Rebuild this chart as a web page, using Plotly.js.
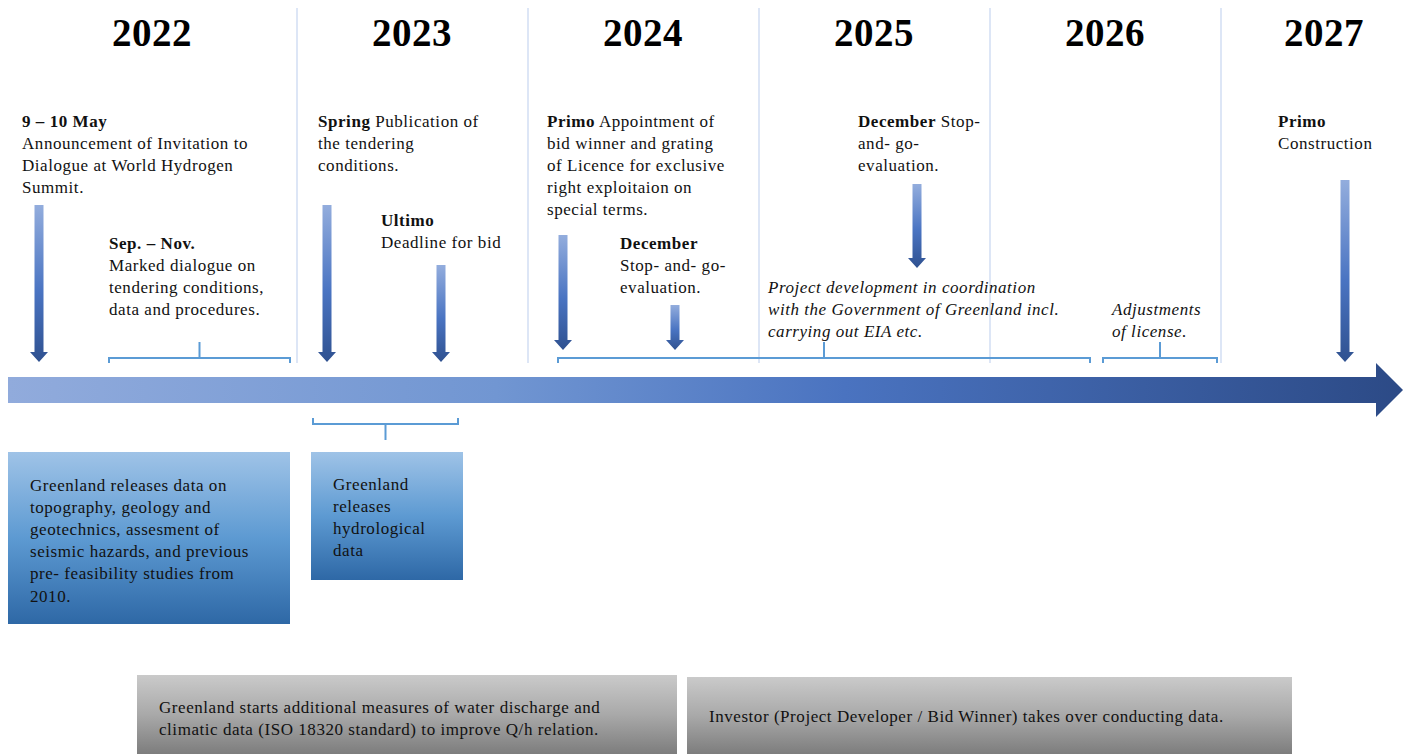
<!DOCTYPE html>
<html><head><meta charset="utf-8">
<script src="https://cdn.plot.ly/plotly-3.0.1.min.js"></script>
<style>html,body{margin:0;padding:0;background:#fff}#chart{width:1408px;height:754px}
#chart .annotation-text{letter-spacing:0.55px}</style>
</head><body><div id="chart"></div>
<script>
// ---- data ----
const years = ['2022', '2023', '2024', '2025', '2026', '2027'];
const milestoneTexts = [
  '<b>9 – 10 May</b><br>Announcement of Invitation to<br>Dialogue at World Hydrogen<br>Summit.',
  '<b>Sep. – Nov.</b><br>Marked dialogue on<br>tendering conditions,<br>data and procedures.',
  '<b>Spring</b> Publication of<br>the tendering<br>conditions.',
  '<b>Ultimo</b><br>Deadline for bid',
  '<b>Primo</b> Appointment of<br>bid winner and grating<br>of Licence for exclusive<br>right exploitaion on<br>special terms.',
  '<b>December</b><br>Stop- and- go-<br>evaluation.',
  '<b>December</b> Stop-<br>and- go-<br>evaluation.',
  '<b>Primo</b><br>Construction'
];
const periodTexts = [
  'Project development in coordination<br>with the Government of Greenland incl.<br>carrying out EIA etc.',
  'Adjustments<br>of license.'
];
const dataReleaseTexts = [
  'Greenland releases data on<br>topography, geology and<br>geotechnics, assesment of<br>seismic hazards, and previous<br>pre- feasibility studies from<br>2010.',
  'Greenland<br>releases<br>hydrological<br>data'
];
const dataStreamTexts = [
  'Greenland starts additional measures of water discharge and<br>climatic data (ISO 18320 standard) to improve Q/h relation.',
  'Investor (Project Developer / Bid Winner) takes over conducting data.'
];

// ---- layout geometry (positions, not data) ----
const yearCenters = [152, 412, 643, 874, 1105, 1324];
const dividerX = [297, 528, 759, 990, 1221];
const milestonePos = [[20,122],[107,244],[316,122],[379,221],[545,122],[618,244],[856,122],[1276,122]];
const periodPos = [[765,288],[1109,310]];
const arrowPos = [[39,205,362],[327,205,362],[441,265,362],[563,235,350],[675,305,350],[917,184,268],[1345,180,362]];
const bracketsAbove = [[109,290],[558,1090],[1103,1217]];
const bracketsBelow = [[313,458]];
const releaseBoxes = [[8,452,290,624],[311,452,463,580]];
const releaseTextPos = [[28,486],[331,485]];
const streamBoxes = [[137,675,677,754],[687,677,1292,754]];
const streamTextPos = [[157,708],[707,717]];

const FONT = 'Liberation Serif, Times New Roman, serif';
const FS = 17;
const traces = [];
const shapes = [];
const annotations = [];

// dividers
dividerX.forEach(x => shapes.push({type:'line', xref:'x', yref:'y', x0:x, x1:x, y0:8, y1:363,
  line:{color:'#c6d6f0', width:1.2}, layer:'below'}));

// main timeline arrow
traces.push({type:'scatter', mode:'lines', line:{width:0}, fill:'toself',
  x:[8,1376,1376,1403,1376,1376,8,8], y:[377,377,363,390,417,403,403,377],
  fillgradient:{type:'horizontal', start:8, stop:1403,
    colorscale:[[0,'#91abdc'],[0.35,'#7196d2'],[0.6,'#4a73c0'],[1,'#2c4a86']]},
  hoverinfo:'skip', showlegend:false});

// vertical milestone arrows
arrowPos.forEach(([cx, y0, y1]) => {
  const sw = 4.5, hw = 9, hh = 10;
  traces.push({type:'scatter', mode:'lines', line:{width:0}, fill:'toself',
    x:[cx-sw, cx+sw, cx+sw, cx+hw, cx, cx-hw, cx-sw, cx-sw],
    y:[y0, y0, y1-hh, y1-hh, y1, y1-hh, y1-hh, y0],
    fillgradient:{type:'vertical', start:y0, stop:y1,
      colorscale:[[0,'#93addd'],[0.55,'#4a74c2'],[1,'#2f5190']]},
    hoverinfo:'skip', showlegend:false});
});

// brackets
const BC = '#5b9bd5';
bracketsAbove.forEach(([a, b]) => {
  const m = (a + b) / 2;
  traces.push({type:'scatter', mode:'lines', line:{color:BC, width:2},
    x:[a, a, b, b], y:[363, 358, 358, 363], hoverinfo:'skip', showlegend:false});
  traces.push({type:'scatter', mode:'lines', line:{color:BC, width:2},
    x:[m, m], y:[358, 342], hoverinfo:'skip', showlegend:false});
});
bracketsBelow.forEach(([a, b]) => {
  const m = (a + b) / 2;
  traces.push({type:'scatter', mode:'lines', line:{color:BC, width:2},
    x:[a, a, b, b], y:[418, 424, 424, 418], hoverinfo:'skip', showlegend:false});
  traces.push({type:'scatter', mode:'lines', line:{color:BC, width:2},
    x:[m, m], y:[424, 440], hoverinfo:'skip', showlegend:false});
});

// blue data boxes
releaseBoxes.forEach(([x0, y0, x1, y1]) => {
  traces.push({type:'scatter', mode:'lines', line:{width:0}, fill:'toself',
    x:[x0, x1, x1, x0, x0], y:[y0, y0, y1, y1, y0],
    fillgradient:{type:'vertical', start:y0, stop:y1,
      colorscale:[[0,'#9fc3e7'],[0.5,'#5d9ad2'],[1,'#2e68a6']]},
    hoverinfo:'skip', showlegend:false});
});
// gray boxes
streamBoxes.forEach(([x0, y0, x1, y1]) => {
  traces.push({type:'scatter', mode:'lines', line:{width:0}, fill:'toself',
    x:[x0, x1, x1, x0, x0], y:[y0, y0, y1, y1, y0],
    fillgradient:{type:'vertical', start:y0, stop:y1,
      colorscale:[[0,'#cacaca'],[0.5,'#a9a9a9'],[1,'#7d7d7d']]},
    hoverinfo:'skip', showlegend:false});
});

// texts
const OFF = 12;
years.forEach((y, i) => annotations.push({x:yearCenters[i], y:32, xref:'x', yref:'y', text:'<b>'+y+'</b>',
  showarrow:false, xanchor:'center', yanchor:'middle', font:{family:FONT, size:39, color:'#000'}}));
function addText(t, [x, c]) {
  annotations.push({x:x, y:c-OFF, xref:'x', yref:'y', text:t, showarrow:false,
    xanchor:'left', yanchor:'top', align:'left', font:{family:FONT, size:FS, color:'#111'}});
}
milestoneTexts.forEach((t, i) => addText(t, milestonePos[i]));
periodTexts.forEach((t, i) => addText('<i>'+t+'</i>', periodPos[i]));
dataReleaseTexts.forEach((t, i) => addText(t, releaseTextPos[i]));
dataStreamTexts.forEach((t, i) => addText(t, streamTextPos[i]));

Plotly.newPlot('chart', traces, {
  width:1408, height:754, margin:{l:0, r:0, t:0, b:0},
  paper_bgcolor:'#ffffff', plot_bgcolor:'#ffffff',
  xaxis:{range:[0,1408], visible:false, fixedrange:true},
  yaxis:{range:[754,0], visible:false, fixedrange:true},
  shapes:shapes, annotations:annotations, showlegend:false
}, {displayModeBar:false, staticPlot:true});
</script></body></html>
